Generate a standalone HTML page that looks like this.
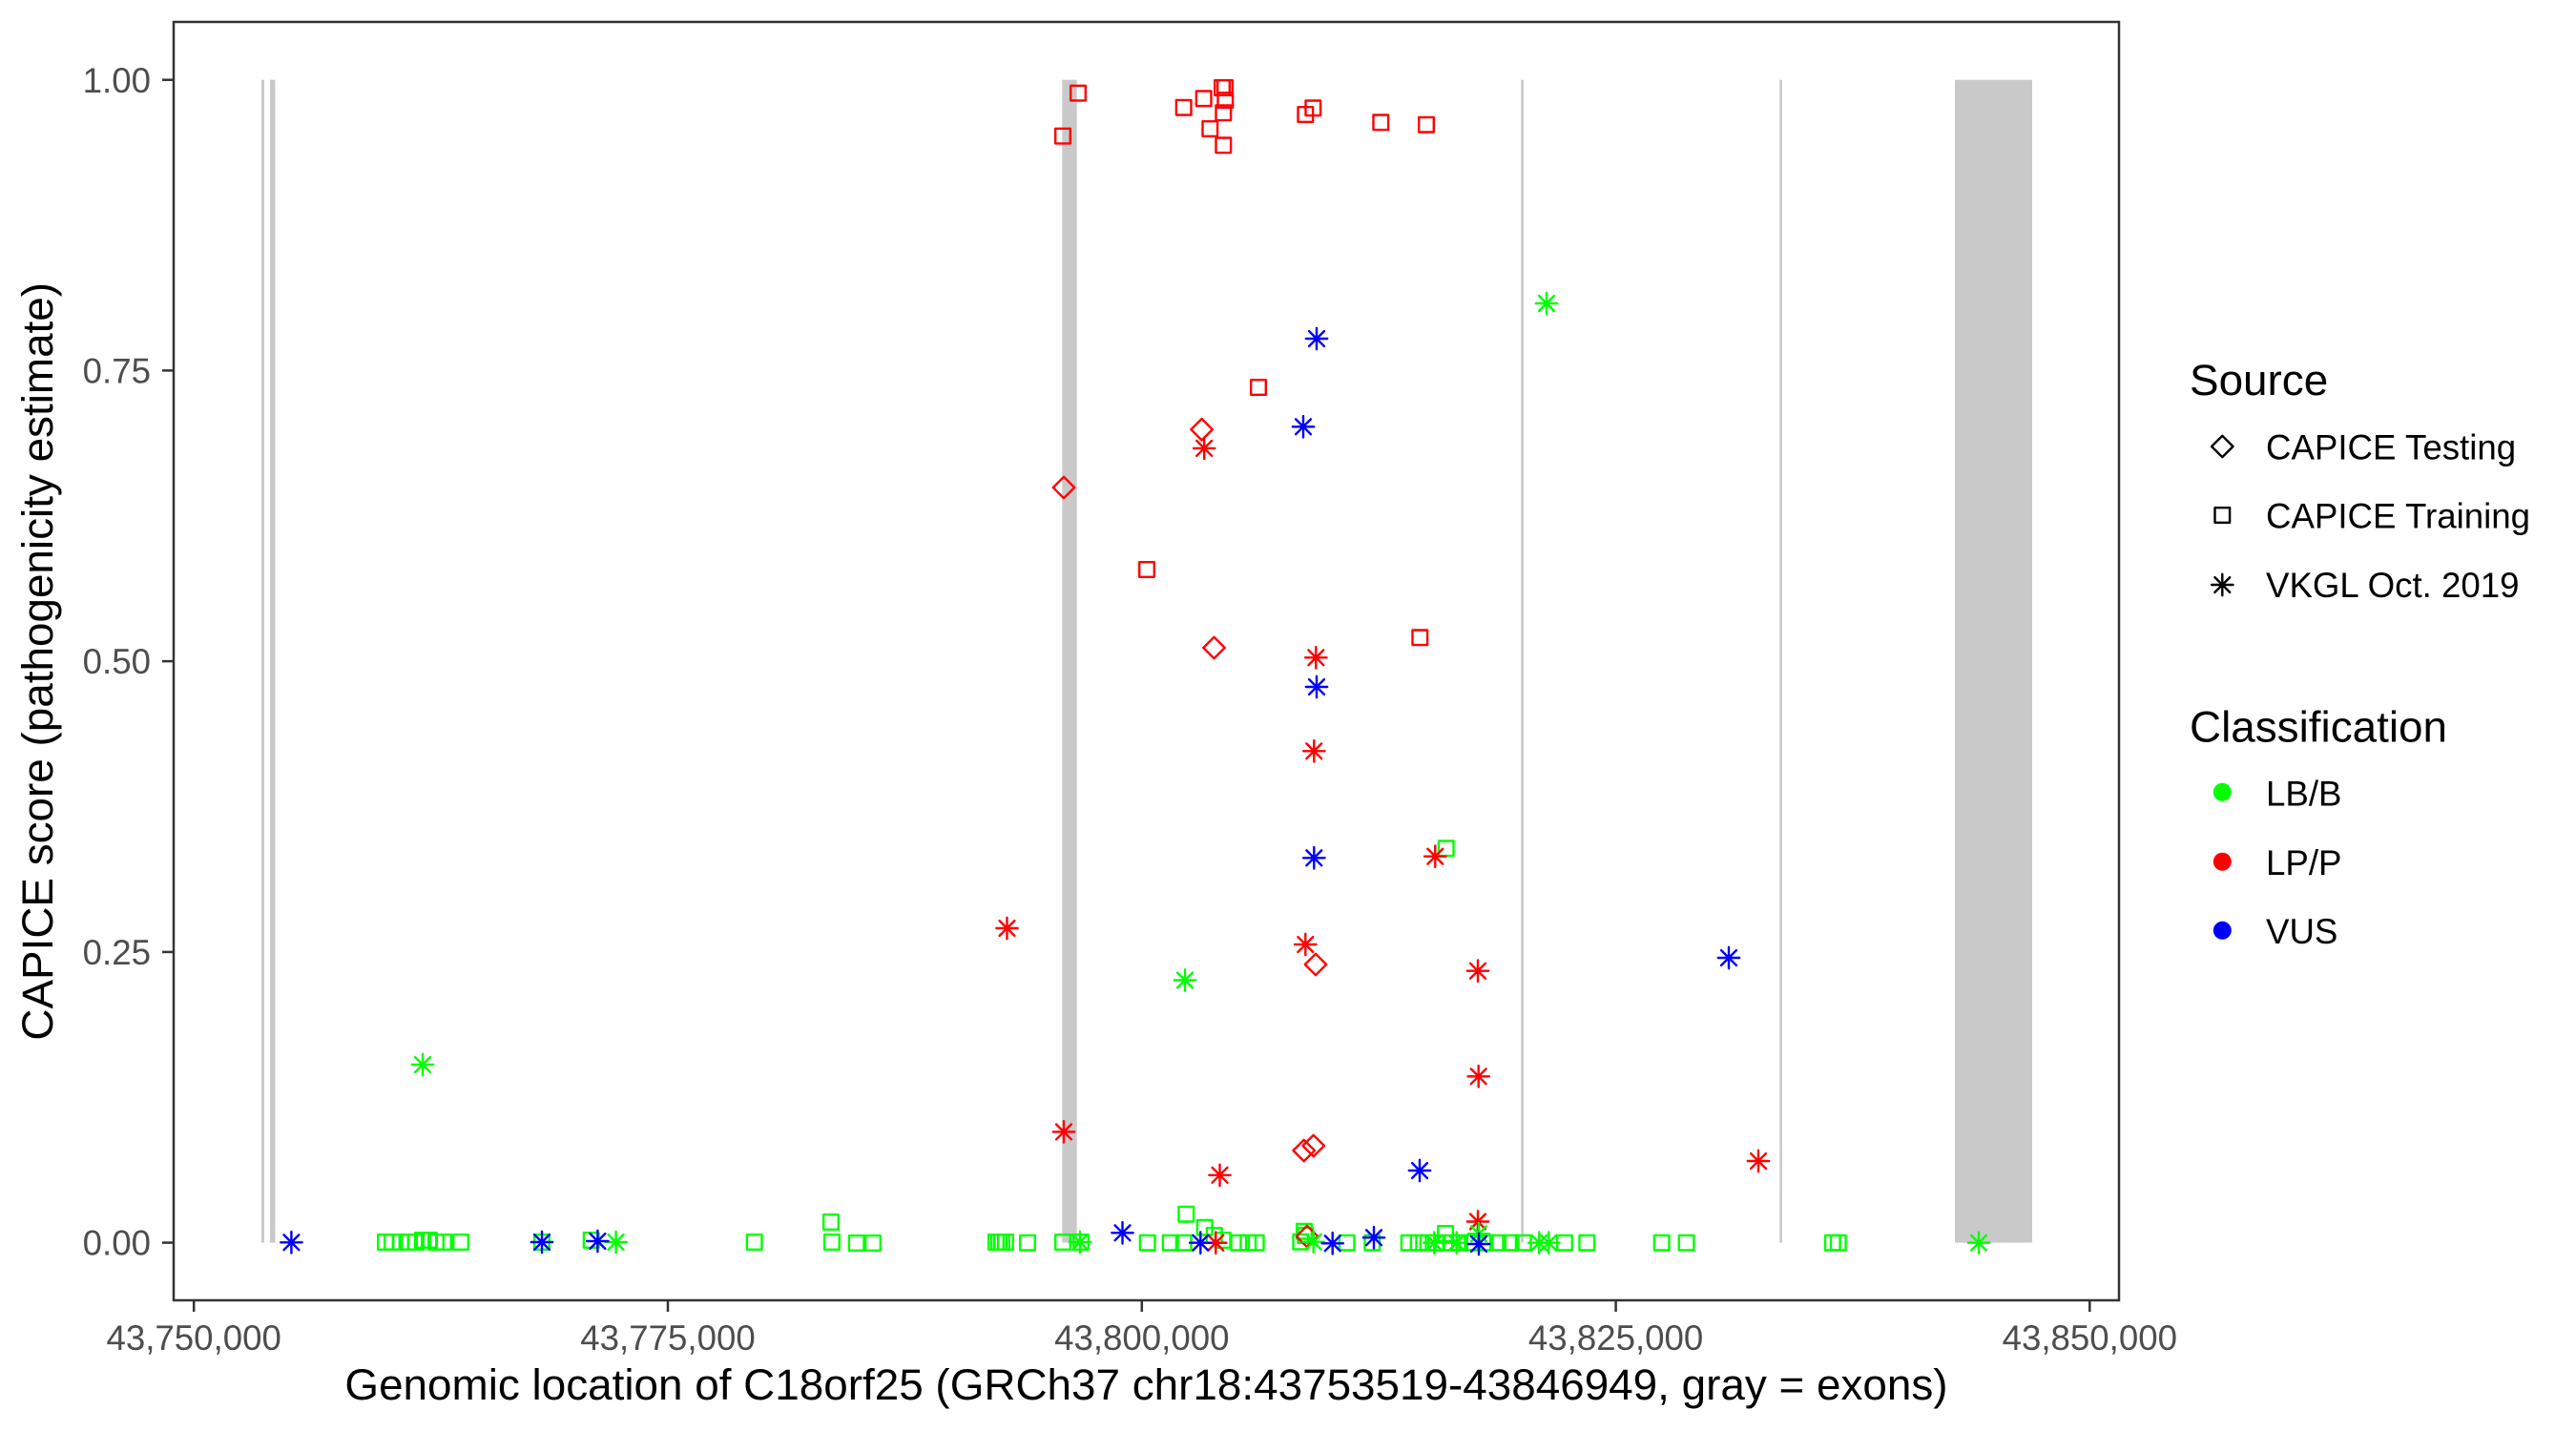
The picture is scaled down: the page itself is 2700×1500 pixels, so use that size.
<!DOCTYPE html>
<html>
<head>
<meta charset="utf-8">
<style>
html,body{margin:0;padding:0;background:#fff;}
svg{display:block;}
</style>
</head>
<body>
<svg width="2700" height="1500" viewBox="0 0 2700 1500" xmlns="http://www.w3.org/2000/svg" font-family="'Liberation Sans', Arial, sans-serif">
<defs>
<path id="sq" d="M-7.8,-7.8H7.8V7.8H-7.8Z" fill="none"/>
<path id="di" d="M0,-11.2L11.2,0L0,11.2L-11.2,0Z" fill="none"/>
<path id="as" d="M0,-11.2V11.2M-11.2,0H11.2M-7.9,-7.9L7.9,7.9M-7.9,7.9L7.9,-7.9" fill="none"/>
</defs>
<rect x="0" y="0" width="2700" height="1500" fill="#fff"/>

<!-- exons -->
<g fill="#C9C9C9">
<rect x="274" y="83.7" width="3" height="1218.9"/>
<rect x="283" y="83.7" width="5.5" height="1218.9"/>
<rect x="1113.3" y="83.7" width="15.4" height="1218.9"/>
<rect x="1594.3" y="83.7" width="2.6" height="1218.9"/>
<rect x="1865.3" y="83.7" width="2.6" height="1218.9"/>
<rect x="2049" y="83.7" width="81" height="1218.9"/>
</g>

<!-- green squares -->
<g stroke="#00FF00" stroke-width="2.4" stroke-linecap="round" stroke-linejoin="round" fill="none">
<use href="#sq" x="404" y="1302"/><use href="#sq" x="411" y="1302"/><use href="#sq" x="420" y="1302"/>
<use href="#sq" x="429" y="1302"/><use href="#sq" x="436" y="1302"/><use href="#sq" x="443" y="1300"/>
<use href="#sq" x="450" y="1300"/><use href="#sq" x="457" y="1302"/><use href="#sq" x="465" y="1302"/>
<use href="#sq" x="483" y="1302"/>
<use href="#sq" x="568" y="1302"/><use href="#sq" x="619.7" y="1300"/><use href="#sq" x="790.7" y="1302"/>
<use href="#sq" x="871" y="1281"/><use href="#sq" x="872" y="1302"/><use href="#sq" x="897.7" y="1303"/>
<use href="#sq" x="915" y="1303"/>
<use href="#sq" x="1044" y="1302"/><use href="#sq" x="1047" y="1302"/><use href="#sq" x="1050" y="1302"/>
<use href="#sq" x="1054" y="1302"/><use href="#sq" x="1077" y="1302.7"/><use href="#sq" x="1114" y="1302"/>
<use href="#sq" x="1133" y="1302"/>
<use href="#sq" x="1202.7" y="1302.7"/><use href="#sq" x="1226.7" y="1302.7"/><use href="#sq" x="1240.7" y="1302.7"/>
<use href="#sq" x="1243.3" y="1272.7"/><use href="#sq" x="1262.7" y="1286.7"/><use href="#sq" x="1272.7" y="1295"/>
<use href="#sq" x="1281.7" y="1300"/><use href="#sq" x="1298.3" y="1302.7"/><use href="#sq" x="1308.3" y="1302.7"/>
<use href="#sq" x="1316.7" y="1302.7"/>
<use href="#sq" x="1363.3" y="1301.7"/><use href="#sq" x="1368.3" y="1295"/><use href="#sq" x="1367" y="1290.7"/>
<use href="#sq" x="1411.7" y="1302.7"/><use href="#sq" x="1438.3" y="1302.7"/>
<use href="#sq" x="1476.7" y="1302.7"/><use href="#sq" x="1486.7" y="1302.7"/><use href="#sq" x="1496.7" y="1302.7"/>
<use href="#sq" x="1505" y="1302.7"/><use href="#sq" x="1515" y="1293"/><use href="#sq" x="1521.7" y="1302.7"/>
<use href="#sq" x="1530" y="1302.7"/><use href="#sq" x="1543.3" y="1302.7"/><use href="#sq" x="1556.7" y="1302.7"/>
<use href="#sq" x="1570" y="1302.7"/><use href="#sq" x="1583.3" y="1302.7"/><use href="#sq" x="1596.7" y="1302.7"/>
<use href="#sq" x="1640" y="1302.7"/><use href="#sq" x="1663.3" y="1302.7"/>
<use href="#sq" x="1741.7" y="1302.7"/><use href="#sq" x="1767.6" y="1302.7"/>
<use href="#sq" x="1920.8" y="1302.7"/><use href="#sq" x="1926.8" y="1302.7"/>
<use href="#sq" x="1515.7" y="889.3"/>
</g>

<!-- red squares -->
<g stroke="#FF0000" stroke-width="2.4" stroke-linecap="round" stroke-linejoin="round" fill="none">
<use href="#sq" x="1114" y="142.6"/><use href="#sq" x="1130" y="97.6"/>
<use href="#sq" x="1240.7" y="112.7"/><use href="#sq" x="1261.7" y="103.3"/>
<use href="#sq" x="1281" y="92"/><use href="#sq" x="1284" y="92"/><use href="#sq" x="1284.3" y="105"/>
<use href="#sq" x="1282.3" y="118.3"/><use href="#sq" x="1268.3" y="135"/><use href="#sq" x="1282.3" y="152.3"/>
<use href="#sq" x="1368.3" y="120"/><use href="#sq" x="1376.3" y="113.3"/>
<use href="#sq" x="1447.3" y="128.3"/><use href="#sq" x="1495" y="130.7"/>
<use href="#sq" x="1319" y="406"/><use href="#sq" x="1202" y="597"/><use href="#sq" x="1488.3" y="668.3"/>
</g>

<!-- red diamonds -->
<g stroke="#FF0000" stroke-width="2.4" stroke-linecap="round" stroke-linejoin="round" fill="none">
<use href="#di" x="1259.6" y="450.2"/><use href="#di" x="1115" y="511"/><use href="#di" x="1272.5" y="679"/>
<use href="#di" x="1379" y="1011"/><use href="#di" x="1366.7" y="1206"/><use href="#di" x="1376.7" y="1201"/>
<use href="#di" x="1370" y="1296"/>
</g>

<!-- red asterisks -->
<g stroke="#FF0000" stroke-width="2.4" stroke-linecap="round" fill="none">
<use href="#as" x="1262.2" y="469.9"/><use href="#as" x="1379.3" y="689.3"/><use href="#as" x="1377.3" y="787.3"/>
<use href="#as" x="1504.3" y="897.7"/><use href="#as" x="1055.5" y="973"/><use href="#as" x="1368.3" y="990"/>
<use href="#as" x="1549" y="1017.7"/><use href="#as" x="1549.7" y="1128.3"/><use href="#as" x="1115" y="1186.4"/>
<use href="#as" x="1843" y="1217"/><use href="#as" x="1278.5" y="1231.8"/><use href="#as" x="1549" y="1280.5"/>
<use href="#as" x="1274.3" y="1302.7"/>
</g>

<!-- green asterisks -->
<g stroke="#00FF00" stroke-width="2.4" stroke-linecap="round" fill="none">
<use href="#as" x="443" y="1116"/><use href="#as" x="1242" y="1027.5"/><use href="#as" x="1621" y="318"/>
<use href="#as" x="645.6" y="1302"/><use href="#as" x="1132" y="1302"/><use href="#as" x="1376.7" y="1301.7"/>
<use href="#as" x="1503.3" y="1302.7"/><use href="#as" x="1526.7" y="1302.7"/><use href="#as" x="1550" y="1293.3"/>
<use href="#as" x="1613.3" y="1302.7"/><use href="#as" x="1623.3" y="1302.7"/><use href="#as" x="2074" y="1302.7"/>
</g>

<!-- blue asterisks -->
<g stroke="#0000FF" stroke-width="2.4" stroke-linecap="round" fill="none">
<use href="#as" x="1380" y="355"/><use href="#as" x="1366" y="447.3"/><use href="#as" x="1380" y="720"/>
<use href="#as" x="1377.3" y="899.3"/><use href="#as" x="1812" y="1004"/><use href="#as" x="1488" y="1227"/>
<use href="#as" x="305.4" y="1302.3"/><use href="#as" x="568" y="1302"/><use href="#as" x="626.4" y="1301"/>
<use href="#as" x="1176.5" y="1292.3"/><use href="#as" x="1258.3" y="1302.7"/><use href="#as" x="1396.7" y="1303.3"/>
<use href="#as" x="1440" y="1297.3"/><use href="#as" x="1550" y="1304"/>
</g>

<!-- panel border -->
<rect x="182" y="23" width="2039" height="1340" fill="none" stroke="#333333" stroke-width="2.5"/>

<!-- ticks -->
<g stroke="#333333" stroke-width="2.5">
<line x1="170" y1="83.7" x2="182" y2="83.7"/>
<line x1="170" y1="388.4" x2="182" y2="388.4"/>
<line x1="170" y1="693.1" x2="182" y2="693.1"/>
<line x1="170" y1="997.9" x2="182" y2="997.9"/>
<line x1="170" y1="1302.6" x2="182" y2="1302.6"/>
<line x1="203.2" y1="1363" x2="203.2" y2="1375"/>
<line x1="700" y1="1363" x2="700" y2="1375"/>
<line x1="1196.8" y1="1363" x2="1196.8" y2="1375"/>
<line x1="1693.6" y1="1363" x2="1693.6" y2="1375"/>
<line x1="2190.3" y1="1363" x2="2190.3" y2="1375"/>
</g>

<!-- tick labels -->
<g font-size="36.67" fill="#4D4D4D">
<text x="158" y="96.8" text-anchor="end">1.00</text>
<text x="158" y="401.5" text-anchor="end">0.75</text>
<text x="158" y="706.2" text-anchor="end">0.50</text>
<text x="158" y="1011" text-anchor="end">0.25</text>
<text x="158" y="1315.7" text-anchor="end">0.00</text>
<text x="203.2" y="1415" text-anchor="middle">43,750,000</text>
<text x="700" y="1415" text-anchor="middle">43,775,000</text>
<text x="1196.8" y="1415" text-anchor="middle">43,800,000</text>
<text x="1693.6" y="1415" text-anchor="middle">43,825,000</text>
<text x="2190.3" y="1415" text-anchor="middle">43,850,000</text>
</g>

<!-- axis titles -->
<text x="1201.5" y="1467" font-size="45.83" fill="#000" text-anchor="middle">Genomic location of C18orf25 (GRCh37 chr18:43753519-43846949, gray = exons)</text>
<text transform="translate(55,693.3) rotate(-90)" font-size="45.83" fill="#000" text-anchor="middle">CAPICE score (pathogenicity estimate)</text>

<!-- legend -->
<text x="2295" y="413.8" font-size="45.83" fill="#000">Source</text>
<g stroke="#000" stroke-width="2.4" stroke-linecap="round" stroke-linejoin="round" fill="none">
<use href="#di" x="2329.3" y="468"/>
<use href="#sq" x="2329.3" y="540"/>
<use href="#as" x="2329.3" y="613"/>
</g>
<g font-size="36.67" fill="#000">
<text x="2375" y="481.3">CAPICE Testing</text>
<text x="2375" y="553.3">CAPICE Training</text>
<text x="2375" y="626">VKGL Oct. 2019</text>
</g>

<text x="2295" y="777.4" font-size="45.83" fill="#000">Classification</text>
<circle cx="2329.3" cy="830.3" r="9.5" fill="#00FF00"/>
<circle cx="2329.3" cy="903.2" r="9.5" fill="#FF0000"/>
<circle cx="2329.3" cy="975.3" r="9.5" fill="#0000FF"/>
<g font-size="36.67" fill="#000">
<text x="2375" y="844.5">LB/B</text>
<text x="2375" y="916.8">LP/P</text>
<text x="2375" y="988.8">VUS</text>
</g>
</svg>
</body>
</html>
